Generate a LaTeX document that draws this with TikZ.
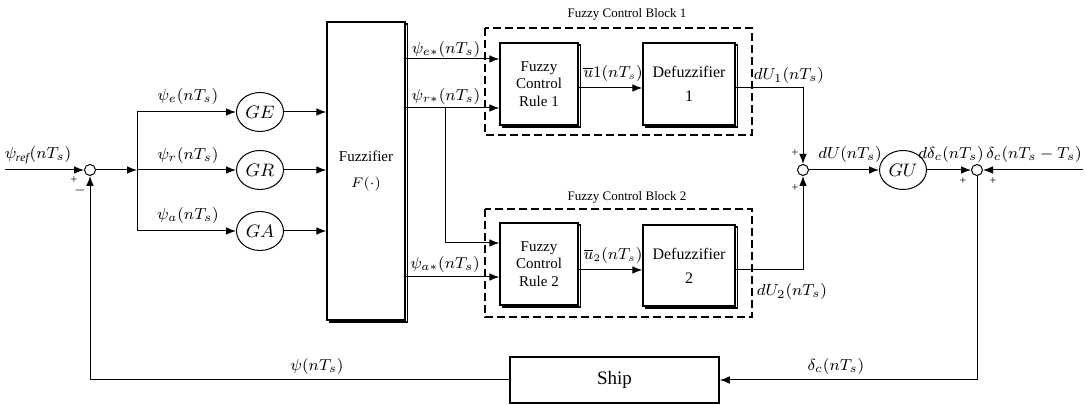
\documentclass[tikz,border=0pt]{standalone}
\usepackage{fontspec}
\setmainfont{Liberation Serif}
\usetikzlibrary{arrows.meta,shadows,shapes.geometric}
\begin{document}
\begin{tikzpicture}[x=0.5pt,y=-0.5pt,
  line width=0.5pt,
  >={Latex[length=5pt,width=3.8pt]},
  blk/.style={draw,line width=0.7pt,fill=white,rectangle,
    copy shadow={shadow xshift=1.1pt,shadow yshift=-1.1pt,fill=white,draw},
    align=center,font=\fontsize{7.5}{8.6}\selectfont,inner sep=0pt},
  gain/.style={draw,ellipse,minimum width=23.5pt,minimum height=19.5pt,inner sep=0pt,
    font=\fontsize{9}{10}\selectfont},
  sumj/.style={draw,circle,minimum size=5.5pt,inner sep=0pt},
  lbl/.style={font=\fontsize{8.2}{9}\selectfont,inner sep=0pt},
  sgn/.style={font=\fontsize{6}{6}\selectfont,inner sep=0pt},
  grp/.style={draw,line width=1pt,dash pattern=on 4pt off 2pt},
  ttl/.style={font=\fontsize{6.5}{7}\selectfont,inner sep=0pt},
]
\useasboundingbox (0,0) rectangle (1086,405);

% group frames
\draw[grp] (485,28) rectangle (752,135);
\draw[grp] (485,209) rectangle (752,317);
\node[ttl] (t1) at (627,14) {Fuzzy Control Block 1};
\node[ttl] (t2) at (627,197) {Fuzzy Control Block 2};

% nodes
\node[sumj] (s1) at (90,170) {};
\node[gain] (ge) at (260,112) {$GE$};
\node[gain] (gr) at (260,170) {$GR$};
\node[gain] (ga) at (260,231) {$GA$};
\node[blk,minimum width=39pt,minimum height=149pt] (fz) at (366,171) {Fuzzifier\\[4pt]$F(\cdot)$};
\node[blk,minimum width=39pt,minimum height=41pt] (fr1) at (539,84) {Fuzzy\\Control\\Rule 1};
\node[blk,minimum width=39pt,minimum height=41pt] (fr2) at (539,264) {Fuzzy\\Control\\Rule 2};
\node[blk,minimum width=46pt,minimum height=41pt,font=\fontsize{8}{9}\selectfont] (df1) at (689,84) {Defuzzifier\\[3pt]1};
\node[blk,minimum width=46pt,minimum height=40.5pt,font=\fontsize{8}{9}\selectfont] (df2) at (689,265.5) {Defuzzifier\\[3pt]2};
\node[sumj] (s2) at (803,170) {};
\node[gain] (gu) at (903,170) {$GU$};
\node[sumj] (s3) at (977,170) {};
\node[draw,line width=0.8pt,minimum width=104.5pt,minimum height=23pt,inner sep=0pt,
  font=\fontsize{9.5}{10}\selectfont] (ship) at (614.5,380) {Ship};

% coordinates
\coordinate (in) at (5,170);
\coordinate (br) at (137,170);
\coordinate (ye) at (0,59);
\coordinate (yr) at (0,108);
\coordinate (ya) at (0,277);
\coordinate (yb) at (0,243);
\coordinate (bj) at (445,108);
\coordinate (yu1) at (0,88);
\coordinate (yu2) at (0,270);
\coordinate (in2) at (1083,170);

% connectors
\draw[->] (in) -- (s1);
\draw[->] (s1) -- (br);
\draw[->] (br) |- (ge);
\draw[->] (br) -- (gr);
\draw[->] (br) |- (ga);
\draw[->] (ge) -- (ge -| fz.west);
\draw[->] (gr) -- (gr -| fz.west);
\draw[->] (ga) -- (ga -| fz.west);
\draw[->] (fz.east |- ye) -- (fr1.west |- ye);
\draw[->] (fz.east |- yr) -- (fr1.west |- yr);
\draw[->] (bj) |- (fr2.west |- yb);
\draw[->] (fz.east |- ya) -- (fr2.west |- ya);
\draw[->] (fr1.east |- yu1) -- (df1.west |- yu1);
\draw[->] (fr2.east |- yu2) -- (df2.west |- yu2);
\draw[->] (df1.east |- yu1) -| (s2);
\draw[->] (df2.east |- yu2) -| (s2);
\draw[->] (s2) -- (gu);
\draw[->] (gu) -- (s3);
\draw[->] (in2) -- (s3);
\draw[->] (s3) |- (ship);
\draw[->] (ship) -| (s1);

% labels
\node[lbl] (l1) at (38,155) {$\psi_{\mathit{ref}}(nT_s)$};
\node[lbl] (l2) at (188,97) {$\psi_e(nT_s)$};
\node[lbl] (l3) at (188,156) {$\psi_r(nT_s)$};
\node[lbl] (l4) at (188,216) {$\psi_a(nT_s)$};
\node[lbl] (l5) at (446,50) {$\psi_{e*}(nT_s)$};
\node[lbl] (l6) at (446,97) {$\psi_{r*}(nT_s)$};
\node[lbl] (l7) at (445,265) {$\psi_{a*}(nT_s)$};
\node[lbl,font=\fontsize{7.8}{9}\selectfont] (l8) at (613,74) {$\overline{u}1(nT_s)$};
\node[lbl,font=\fontsize{7.8}{9}\selectfont] (l9) at (613,256) {$\overline{u}_2(nT_s)$};
\node[lbl] (l10) at (789,76) {$dU_1(nT_s)$};
\node[lbl] (l11) at (792,292) {$dU_2(nT_s)$};
\node[lbl] (l12) at (850,155) {$dU(nT_s)$};
\node[lbl] (l13) at (951,155) {$d\delta_c(nT_s)$};
\node[lbl] (l14) at (1034,155) {$\delta_c(nT_s-T_s)$};
\node[lbl] (l15) at (317,367) {$\psi(nT_s)$};
\node[lbl] (l16) at (836,367) {$\delta_c(nT_s)$};

% signs
\node[sgn] (p1) at (74,180) {+};
\node[sgn] (m1) at (80,191) {$-$};
\node[sgn] (p2) at (795,153) {+};
\node[sgn] (p3) at (795,188) {+};
\node[sgn] (p4) at (963,181) {+};
\node[sgn] (p5) at (993,181) {+};
\end{tikzpicture}
\end{document}
